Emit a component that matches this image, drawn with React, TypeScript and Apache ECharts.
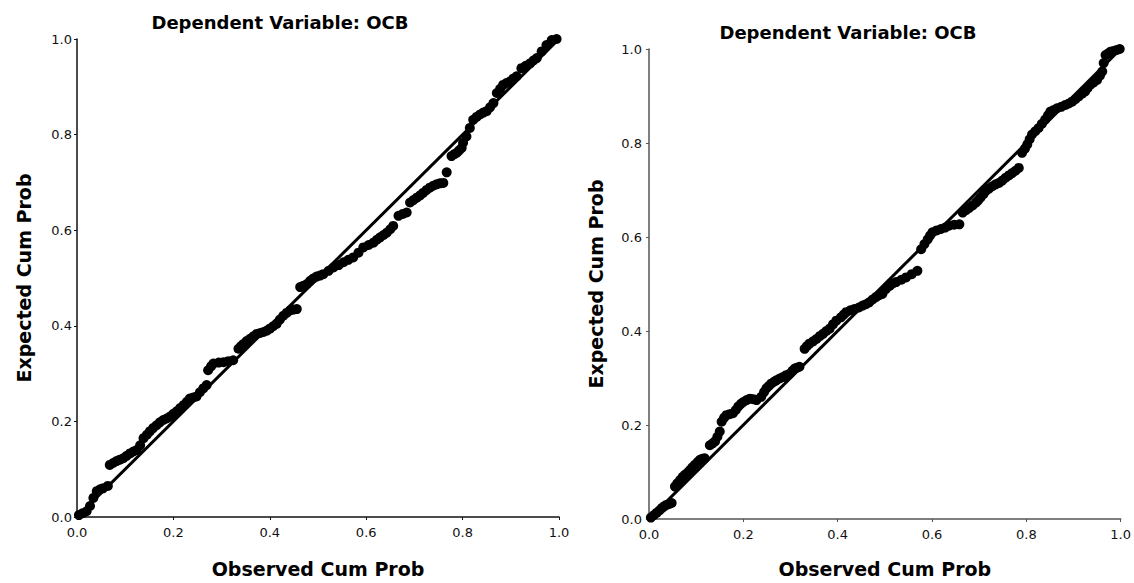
import React, { useEffect, useRef } from "react";
import * as echarts from "echarts";

const chartTitle = "Dependent Variable: OCB";
const xAxisTitle = "Observed Cum Prob";
const yAxisTitle = "Expected Cum Prob";

// Left panel: observed vs expected cumulative probability
const leftObserved = [
  0.004, 0.012, 0.02, 0.027, 0.034, 0.041, 0.048, 0.054, 0.064, 0.068, 0.075, 0.082, 0.089, 0.096, 0.103,
  0.11, 0.117, 0.124, 0.131, 0.138, 0.145, 0.151, 0.158, 0.165, 0.172, 0.179, 0.186, 0.193, 0.2, 0.207,
  0.214, 0.221, 0.228, 0.234, 0.241, 0.248, 0.255, 0.262, 0.269, 0.272, 0.278, 0.283, 0.294, 0.304, 0.314,
  0.324, 0.335, 0.34, 0.345, 0.352, 0.359, 0.366, 0.373, 0.38, 0.387, 0.394, 0.4, 0.407, 0.414, 0.421,
  0.428, 0.435, 0.442, 0.449, 0.456, 0.463, 0.47, 0.477, 0.484, 0.49, 0.497, 0.504, 0.511, 0.522, 0.532,
  0.543, 0.553, 0.563, 0.573, 0.584, 0.594, 0.605, 0.615, 0.622, 0.629, 0.636, 0.643, 0.65, 0.656, 0.667,
  0.676, 0.684, 0.691, 0.698, 0.705, 0.712, 0.718, 0.725, 0.732, 0.739, 0.746, 0.753, 0.76, 0.767, 0.777,
  0.783, 0.788, 0.793, 0.798, 0.801, 0.808, 0.815, 0.822, 0.829, 0.836, 0.843, 0.85, 0.857, 0.864, 0.871,
  0.878, 0.884, 0.891, 0.898, 0.905, 0.912, 0.922, 0.931, 0.94, 0.947, 0.954, 0.964, 0.974, 0.985, 0.995,
];
const leftExpected = [
  0.004, 0.008, 0.012, 0.023, 0.04, 0.054, 0.058, 0.06, 0.065, 0.109, 0.113, 0.117, 0.12, 0.123, 0.128,
  0.133, 0.137, 0.14, 0.15, 0.165, 0.172, 0.179, 0.186, 0.192, 0.198, 0.203, 0.206, 0.21, 0.216, 0.221,
  0.228, 0.234, 0.241, 0.248, 0.25, 0.252, 0.261, 0.269, 0.276, 0.307, 0.315, 0.321, 0.323, 0.324, 0.326,
  0.328, 0.352, 0.357, 0.362, 0.368, 0.373, 0.378, 0.383, 0.385, 0.387, 0.39, 0.394, 0.399, 0.404, 0.413,
  0.421, 0.427, 0.432, 0.434, 0.435, 0.481, 0.484, 0.4875, 0.494, 0.499, 0.503, 0.505, 0.508, 0.515, 0.522,
  0.527, 0.533, 0.538, 0.543, 0.553, 0.564, 0.569, 0.574, 0.58, 0.585, 0.59, 0.595, 0.602, 0.609, 0.63,
  0.634, 0.637, 0.658, 0.663, 0.668, 0.673, 0.678, 0.684, 0.689, 0.693, 0.696, 0.698, 0.699, 0.721, 0.755,
  0.759, 0.762, 0.767, 0.772, 0.783, 0.796, 0.814, 0.831, 0.837, 0.842, 0.846, 0.849, 0.857, 0.866, 0.887,
  0.896, 0.904, 0.908, 0.911, 0.917, 0.922, 0.939, 0.944, 0.949, 0.955, 0.96, 0.974, 0.9875, 0.998, 1.0,
];

// Right panel
const rightObserved = [
  0.004, 0.01, 0.016, 0.022, 0.027, 0.032, 0.037, 0.043, 0.048, 0.055, 0.06, 0.066, 0.071, 0.076, 0.082,
  0.087, 0.092, 0.097, 0.103, 0.108, 0.113, 0.118, 0.129, 0.135, 0.14, 0.145, 0.15, 0.154, 0.159, 0.164,
  0.171, 0.178, 0.184, 0.189, 0.195, 0.2, 0.207, 0.214, 0.221, 0.228, 0.238, 0.244, 0.249, 0.254, 0.259,
  0.265, 0.27, 0.277, 0.284, 0.291, 0.298, 0.304, 0.309, 0.314, 0.319, 0.33, 0.335, 0.34, 0.348, 0.355,
  0.362, 0.369, 0.376, 0.383, 0.39, 0.397, 0.407, 0.413, 0.418, 0.427, 0.436, 0.445, 0.453, 0.46, 0.467,
  0.474, 0.481, 0.488, 0.495, 0.502, 0.51, 0.517, 0.524, 0.535, 0.545, 0.557, 0.569, 0.577, 0.584, 0.591,
  0.596, 0.601, 0.61, 0.619, 0.628, 0.636, 0.647, 0.658, 0.665, 0.672, 0.679, 0.686, 0.693, 0.698, 0.703,
  0.709, 0.714, 0.721, 0.728, 0.735, 0.742, 0.749, 0.756, 0.763, 0.77, 0.777, 0.784, 0.791, 0.797, 0.802,
  0.807, 0.812, 0.819, 0.826, 0.833, 0.84, 0.846, 0.851, 0.858, 0.865, 0.874, 0.883, 0.89, 0.897, 0.904,
  0.911, 0.918, 0.925, 0.93, 0.936, 0.943, 0.95, 0.956, 0.961, 0.964, 0.968, 0.973, 0.978, 0.985, 0.992,
  0.998,
];
const rightExpected = [
  0.003, 0.008, 0.013, 0.018, 0.023, 0.027, 0.03, 0.032, 0.034, 0.069, 0.076, 0.083, 0.089, 0.094, 0.099,
  0.104, 0.11, 0.115, 0.121, 0.126, 0.128, 0.129, 0.157, 0.161, 0.165, 0.175, 0.186, 0.207, 0.215, 0.221,
  0.223, 0.225, 0.232, 0.239, 0.245, 0.249, 0.253, 0.256, 0.255, 0.253, 0.26, 0.27, 0.278, 0.283, 0.288,
  0.292, 0.295, 0.299, 0.302, 0.306, 0.309, 0.315, 0.32, 0.322, 0.324, 0.362, 0.368, 0.373, 0.378, 0.383,
  0.389, 0.394, 0.4, 0.405, 0.414, 0.422, 0.429, 0.435, 0.44, 0.444, 0.447, 0.45, 0.454, 0.457, 0.461,
  0.467, 0.472, 0.476, 0.479, 0.489, 0.496, 0.501, 0.504, 0.509, 0.514, 0.521, 0.528, 0.574, 0.585, 0.595,
  0.603, 0.61, 0.614, 0.617, 0.62, 0.624, 0.626, 0.627, 0.652, 0.657, 0.662, 0.667, 0.673, 0.678, 0.684,
  0.691, 0.698, 0.703, 0.708, 0.712, 0.715, 0.72, 0.726, 0.731, 0.736, 0.741, 0.747, 0.779, 0.788, 0.797,
  0.808, 0.818, 0.825, 0.832, 0.841, 0.85, 0.859, 0.867, 0.87, 0.874, 0.877, 0.881, 0.884, 0.888, 0.893,
  0.899, 0.905, 0.91, 0.917, 0.924, 0.929, 0.934, 0.943, 0.952, 0.97, 0.987, 0.99, 0.994, 0.996, 0.998,
  1.0,
];

const refLine = [
  [0, 0],
  [1, 1],
];

const FONT = "DejaVu Sans";

function pairs(xs: number[], ys: number[]) {
  return xs.map((x, i) => [x, ys[i]]);
}

export default function App() {
  const ref = useRef<HTMLDivElement>(null);

  useEffect(() => {
    if (!ref.current) return;
    const chart = echarts.init(ref.current, undefined, { renderer: "svg" });

    const axisCommon = (gridIndex: number, color: string, labelMargin: number, nameGap: number, name: string) => ({
      type: "value",
      gridIndex,
      min: 0,
      max: 1,
      interval: 0.2,
      name,
      nameLocation: "middle",
      nameGap,
      nameTextStyle: { fontFamily: FONT, fontSize: 19, fontWeight: "bold", color: "#000" },
      axisLine: { show: true, lineStyle: { color, width: 1.5 } },
      axisTick: { show: true, length: 3, lineStyle: { color } },
      axisLabel: {
        margin: labelMargin,
        fontFamily: FONT,
        fontSize: 13,
        color: "#111",
        formatter: (v: number) => v.toFixed(1),
      },
      splitLine: { show: false },
    });

    const scatter = (idx: number, data: number[][]) => ({
      type: "scatter",
      xAxisIndex: idx,
      yAxisIndex: idx,
      data,
      symbol: "circle",
      symbolSize: 10,
      itemStyle: { color: "#000", opacity: 1 },
      z: 2,
    });
    const line = (idx: number) => ({
      type: "line",
      xAxisIndex: idx,
      yAxisIndex: idx,
      data: refLine,
      showSymbol: false,
      symbol: "none",
      lineStyle: { color: "#000", width: 3 },
      z: 3,
    });

    const titleStyle = {
      text: chartTitle,
      textAlign: "center",
      textVerticalAlign: "middle",
      fontFamily: FONT,
      fontSize: 18,
      fontWeight: "bold",
      fill: "#000",
    };

    chart.setOption({
      animation: false,
      backgroundColor: "#fff",
      graphic: [
        { type: "text", x: 280, y: 22, style: titleStyle },
        { type: "text", x: 848, y: 32, style: titleStyle },
      ],
      grid: [
        { left: 77, top: 39, width: 482, height: 480 },
        { left: 649, top: 49, width: 473, height: 472 },
      ],
      xAxis: [axisCommon(0, "#111", 9, 42, xAxisTitle), axisCommon(1, "#555", 9, 40, xAxisTitle)],
      yAxis: [axisCommon(0, "#111", 5, 44, yAxisTitle), axisCommon(1, "#555", 7, 44, yAxisTitle)],
      series: [
        scatter(0, pairs(leftObserved, leftExpected)),
        line(0),
        scatter(1, pairs(rightObserved, rightExpected)),
        line(1),
      ],
    });

    return () => chart.dispose();
  }, []);

  return (
    <div
      ref={ref}
      style={{ position: "fixed", left: 0, top: 0, width: 1134, height: 583, background: "#fff" }}
    />
  );
}
